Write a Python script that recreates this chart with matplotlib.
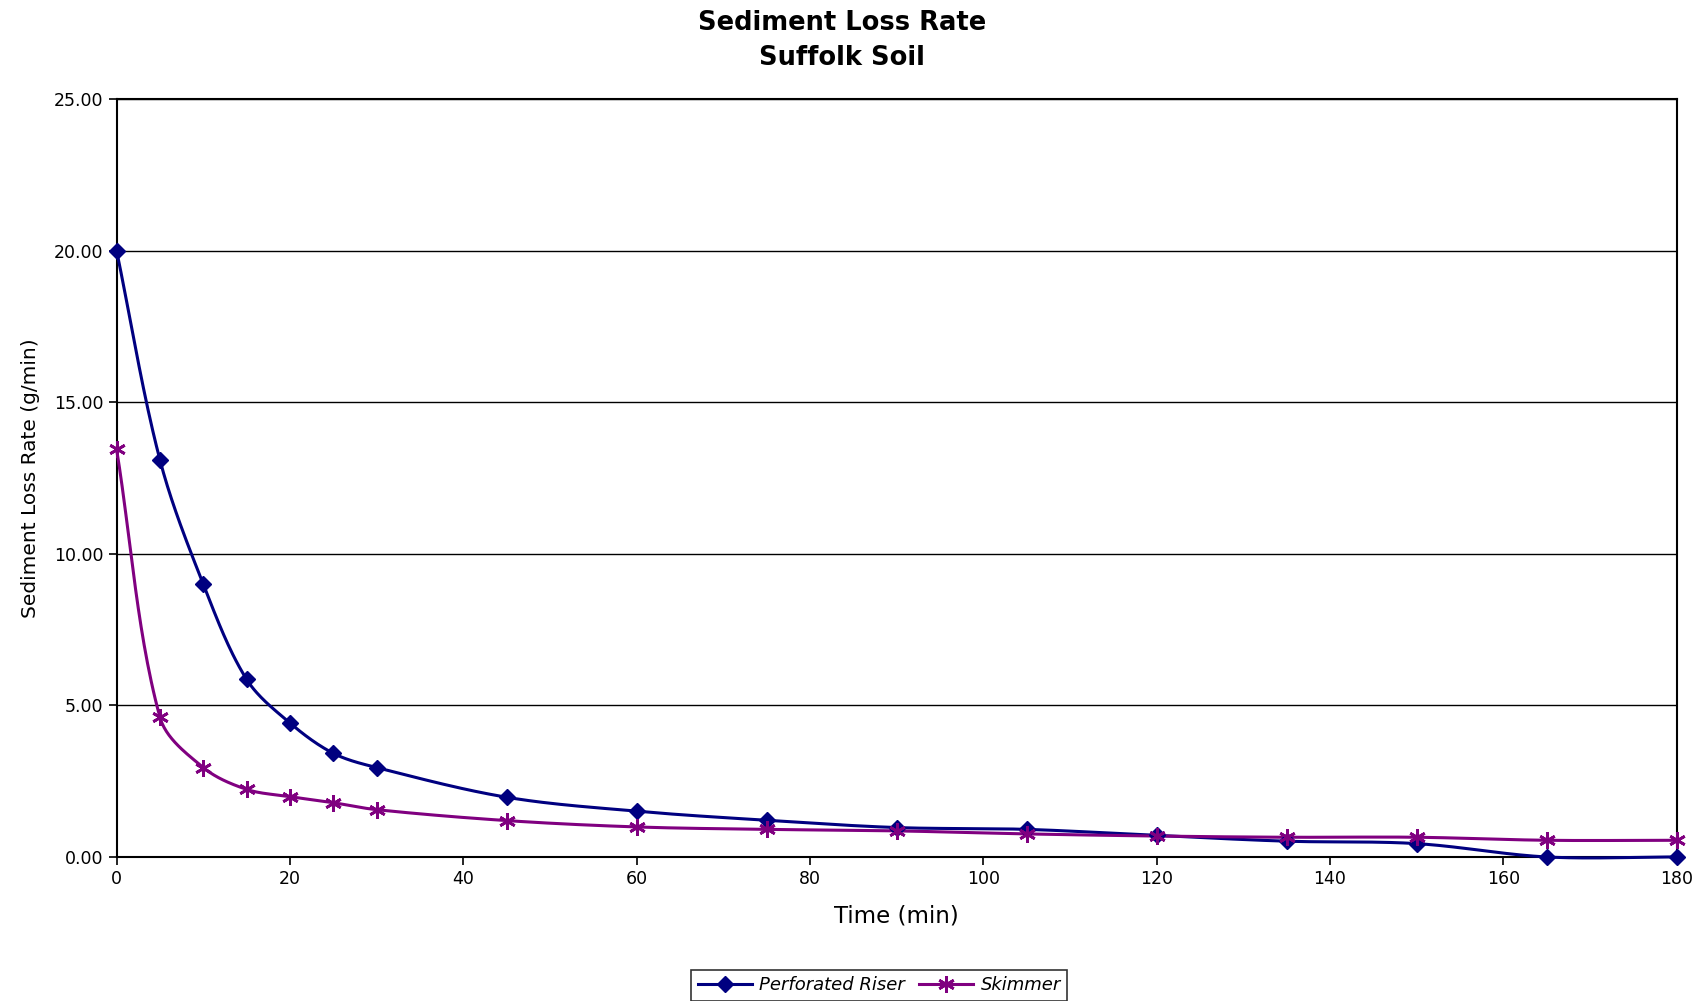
import numpy as np
import matplotlib.pyplot as plt
from matplotlib.ticker import FormatStrFormatter

plt.rcParams['font.family'] = ['DejaVu Sans']

time_min = [0, 5, 10, 15, 20, 25, 30, 45, 60, 75, 90, 105, 120, 135, 150, 165, 180]
riser = [20.0, 13.1, 9.0, 5.86, 4.42, 3.42, 2.95, 1.97, 1.51, 1.21, 0.97, 0.91, 0.71, 0.52, 0.44, 0.0, 0.0]
skimmer = [13.45, 4.61, 2.95, 2.23, 1.99, 1.79, 1.56, 1.2, 0.99, 0.91, 0.86, 0.76, 0.69, 0.65, 0.65, 0.55, 0.55]

XPX = 1560 / 180  # approx pixels per unit, used only for the smoothing weights
YPX = 760 / 25


def smooth(x, y, n=30):
    # bezier through the points with length-weighted tangents (like Excel's smoothed line)
    p = np.column_stack([np.asarray(x, float), np.asarray(y, float)])
    k = len(p)
    d = np.hypot(np.diff(p[:, 0]) * XPX, np.diff(p[:, 1]) * YPX)
    t = np.linspace(0, 1, n)[:, None]
    out = []
    for i in range(k - 1):
        p1, p2 = p[i], p[i + 1]
        if i == 0:
            c1 = p1 + (p2 - p1) / 3
        else:
            c1 = p1 + (p2 - p[i - 1]) * d[i] / (3 * (d[i - 1] + d[i]))
        if i == k - 2:
            c2 = p2 - (p2 - p1) / 3
        else:
            c2 = p2 - (p[i + 2] - p1) * d[i] / (3 * (d[i] + d[i + 1]))
        b = (1 - t) ** 3 * p1 + 3 * (1 - t) ** 2 * t * c1 + 3 * (1 - t) * t ** 2 * c2 + t ** 3 * p2
        out.append(b)
    b = np.vstack(out)
    return b[:, 0], b[:, 1]


fig = plt.figure(figsize=(17.07, 10.01), dpi=100)
ax = fig.add_axes([0.0683, 0.1439, 0.9139, 0.7571])

navy = '#000080'
purple = '#800080'
star = (6, 2, 0)

sx, sy = smooth(time_min, riser)
ax.plot(sx, sy, color=navy, lw=2.2, zorder=3, clip_on=False)
ax.plot(time_min, riser, 'D', color=navy, ms=8, zorder=4, clip_on=False)
sx, sy = smooth(time_min, skimmer)
ax.plot(sx, sy, color=purple, lw=2.2, zorder=3, clip_on=False)
ax.plot(time_min, skimmer, marker=star, ls='none', color=purple, ms=12, mew=2, zorder=4, clip_on=False)

# legend proxies
ax.plot([], [], color=navy, lw=2.2, marker='D', ms=8, label='Perforated Riser')
ax.plot([], [], color=purple, lw=2.2, marker=star, ms=12, mew=2, label='Skimmer')

ax.set_xlim(0, 180)
ax.set_ylim(0, 25)
ax.set_xticks(range(0, 181, 20))
ax.set_yticks(np.arange(0, 25.1, 5))
ax.yaxis.set_major_formatter(FormatStrFormatter('%.2f'))
ax.tick_params(labelsize=12.5, direction='out', length=6, width=1.2)
ax.grid(axis='y', color='black', lw=1)
for s in ax.spines.values():
    s.set_linewidth(1.5)
    s.set_color('black')

ax.set_xlabel('Time (min)', fontsize=16.5, labelpad=12)
ax.set_ylabel('Sediment Loss Rate (g/min)', fontsize=14.5, labelpad=10)

fig.text(0.4935, 0.977, 'Sediment Loss Rate', ha='center', va='center', fontsize=18.5, fontweight='bold')
fig.text(0.4935, 0.942, 'Suffolk Soil', ha='center', va='center', fontsize=18.5, fontweight='bold')

leg = fig.legend(loc='center', bbox_to_anchor=(0.5151, 0.0155), ncol=2, frameon=True, fancybox=False,
                 edgecolor='black', prop={'style': 'italic', 'size': 13}, handlelength=3,
                 columnspacing=0.8, handletextpad=0.4, borderpad=0.35)
leg.get_frame().set_linewidth(1.2)

fig.savefig('out.png', dpi=100)
